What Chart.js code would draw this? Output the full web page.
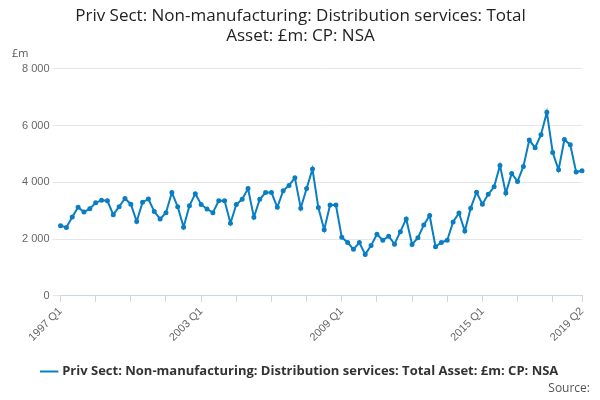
<!DOCTYPE html>
<html><head><meta charset="utf-8">
<script src="https://cdn.jsdelivr.net/npm/chart.js@4"></script>
<style>body{margin:0;background:#fff;font-family:"Open Sans",sans-serif}#w{position:relative;width:600px;height:400px}
#src{position:absolute;right:10px;bottom:4px;font:12px "Open Sans",sans-serif;color:#555}
#unit{position:absolute;left:12px;top:45px;font:11px "Open Sans",sans-serif;color:#555}</style>
</head><body><div id="w"><canvas id="c" width="600" height="400"></canvas><div id="unit">£m</div><div id="src">Source:</div></div>
<script>
const startYear = 1997;
const values = [2470,2410,2780,3120,2950,3070,3280,3370,3350,2860,3140,3430,3230,2620,3300,3410,2970,2710,2930,3640,3140,2420,3170,3600,3220,3060,2930,3350,3350,2560,3220,3400,3780,2770,3400,3640,3640,3120,3700,3890,4160,3090,3780,4470,
3110,2330,3200,3200,
2060,1880,1640,1880,1460,1770,2170,1960,2100,1820,2260,2710,1810,2050,2500,2830,1730,1880,1960,2600,2920,2280,3090,3650,3230,3580,3840,4590,3620,4310,4030,4560,5490,5220,5680,6470,5050,4440,5510,5320,4360,4410];
const labels = values.map((v,i)=>(startYear+Math.floor(i/4))+' Q'+(i%4+1));
const yTicks = [0,2000,4000,6000,8000];
const seriesName = 'Priv Sect: Non-manufacturing: Distribution services: Total Asset: £m: CP: NSA';
new Chart(document.getElementById('c'),{type:'line',
data:{labels,datasets:[{label:seriesName,data:values,borderColor:'#0a7ec2',backgroundColor:'#0a7ec2',borderWidth:2,pointRadius:1.5,pointHoverRadius:1.5,tension:0}]},
options:{responsive:false,animation:false,
layout:{padding:{left:19,right:18,top:0,bottom:12}},
plugins:{title:{display:true,text:['Priv Sect: Non-manufacturing: Distribution services: Total','Asset: £m: CP: NSA'],font:{size:17,weight:'normal',family:'Open Sans'},color:'#222',padding:{top:6,bottom:22}},
legend:{position:'bottom',labels:{usePointStyle:true,pointStyle:'line',boxWidth:20,padding:18,color:'#333',font:{size:13,weight:'bold',family:'Open Sans'}}},tooltip:{enabled:false}},
scales:{x:{grid:{drawOnChartArea:false,color:'#ccd6eb',tickLength:6},border:{color:'#ccd6eb'},
ticks:{autoSkip:false,maxRotation:45,minRotation:45,color:'#666',font:{size:11},
callback:(v,i)=>{if(i%24===0||i===values.length-1)return labels[i];if(i%6===0)return '';return null;}}},
y:{min:0,max:8000,afterBuildTicks:a=>{a.ticks=yTicks.map(v=>({value:v}));},grid:{color:'#e6e6e6'},border:{display:false},
ticks:{color:'#666',font:{size:11},callback:v=>v===0?'0':String(v).replace(/\B(?=(\d{3})+$)/g,' ')}}}}});
</script></body></html>
